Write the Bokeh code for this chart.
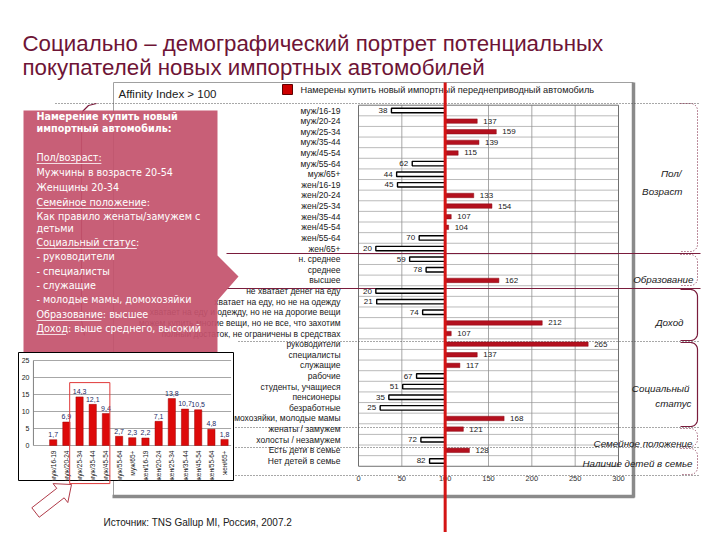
import math
from bokeh.plotting import figure
from bokeh.models import Range1d
from bokeh.core.properties import value
from bokeh.embed import file_html
from bokeh.resources import INLINE

# ---------------- data ----------------
title_lines = ["Социально – демографический портрет потенциальных",
               "покупателей новых импортных автомобилей"]
affinity_note = "Affinity Index > 100"
legend_text = "Намерены купить новый импортный переднеприводный автомобиль"
source_text = "Источник: TNS Gallup MI, Россия, 2007.2"

categories = ["муж/16-19", "муж/20-24", "муж/25-34", "муж/35-44", "муж/45-54",
              "муж/55-64", "муж/65+", "жен/16-19", "жен/20-24", "жен/25-34",
              "жен/35-44", "жен/45-54", "жен/55-64", "жен/65+",
              "н. среднее", "среднее", "высшее",
              "не хватает денег на еду", "хватает на еду, но не на одежду",
              "хватает на еду и одежду, но не на дорогие вещи",
              "можем купить многие вещи, но не все, что захотим",
              "полный достаток, не ограничены в средствах",
              "руководители", "специалисты", "служащие", "рабочие",
              "студенты, учащиеся", "пенсионеры", "безработные",
              "домохозяйки, молодые мамы",
              "женаты / замужем", "холосты / незамужем",
              "Есть дети в семье", "Нет детей в семье"]
affinity = [38, 137, 159, 139, 115, 62, 44, 45, 133, 154, 107, 104, 70, 20,
            59, 78, 162, 20, 21, 74, 212, 107, 265, 137, 117, 67, 51, 35, 25, 168,
            121, 72, 128, 82]
value_ticks = [0, 50, 100, 150, 200, 250, 300]
baseline_index = 100

section_names = [["Пол/", "Возраст"], ["Образование"], ["Доход"],
                 ["Социальный", "статус"], ["Семейное положение"],
                 ["Наличие детей в семье"]]

inset_categories = ["муж/16-19", "муж/20-24", "муж/25-34", "муж/35-44", "муж/45-54",
                    "муж/55-64", "муж/65+", "жен/16-19", "жен/20-24", "жен/25-34",
                    "жен/35-44", "жен/45-54", "жен/55-64", "жен/65+"]
inset_shares = [1.7, 6.9, 14.3, 12.1, 9.4, 2.7, 2.3, 2.2, 7.1, 13.8, 10.7, 10.5, 4.8, 1.8]
inset_ticks = [0, 5, 10, 15, 20, 25]
highlight_group = ["муж/25-34", "муж/35-44", "муж/45-54"]

summary_lines = ["Намерение купить новый", "импортный автомобиль:",
                 "Пол/возраст:", "Мужчины в возрасте 20-54", "Женщины 20-34",
                 "Семейное положение:", "Как правило женаты/замужем с", "детьми",
                 "Социальный статус:", "- руководители", "- специалисты", "- служащие",
                 "- молодые мамы, домохозяйки", "Образование: высшее",
                 "Доход: выше среднего, высокий"]
summary_underlined = ["Пол/возраст", "Семейное положение", "Социальный статус",
                      "Образование", "Доход"]

# ---------------- layout (reference pixel coordinates) ----------------
W, H = 712, 532
OFF = 0
ROW0_PX, ROW_STEP = 110.0, 10.62
VAL0_PX, VALMAX_PX, VALMAX = 358.0, 618.0, 300.0
K = (VALMAX_PX - VAL0_PX) / VALMAX
I0_PX, I_STEP = 52.7, 13.18
IY0_PX, IY_K = 445.0, 3.4

FONT = value("Liberation Sans")
VFONT = value("DejaVu Sans")
MAROON = "#6e1436"

p = figure(width=W, height=H, x_range=Range1d(OFF, OFF + W), y_range=Range1d(OFF + H, OFF),
           x_axis_type=None, y_axis_type=None, toolbar_location=None,
           output_backend="svg", min_border=0, outline_line_color=None)
p.background_fill_color = "white"
p.border_fill_color = "white"
p.grid.visible = False

p.extra_x_ranges = {
    "val": Range1d((OFF - VAL0_PX) / K, (OFF + W - VAL0_PX) / K),
    "ix": Range1d((OFF - I0_PX) / I_STEP, (OFF + W - I0_PX) / I_STEP),
}
p.extra_y_ranges = {
    "rows": Range1d((OFF + H - ROW0_PX) / ROW_STEP, (OFF - ROW0_PX) / ROW_STEP),
    "iy": Range1d((IY0_PX - (OFF + H)) / IY_K, (IY0_PX - OFF) / IY_K),
}

n = len(categories)

# ---------------- outer gray frame ----------------
p.line([113, 633], [82, 82], line_color="#a0a0a0", line_width=1)
p.line([113, 113], [82, 496], line_color="#a0a0a0", line_width=1)
p.line([633, 633], [82, 497], line_color="#8a8a8a", line_width=3.5)
p.line([112, 634], [496, 496], line_color="#8a8a8a", line_width=3.5)

# header
p.text([118], [93], [affinity_note], text_font=FONT, text_font_size="11.5px",
       text_baseline="middle", text_color="#202020")
p.quad(left=[282], right=[292], top=[84], bottom=[94], fill_color="#cc0000", line_color="#600000")
p.text([300], [89], [legend_text], text_font=FONT, text_font_size="9.2px",
       text_baseline="middle", text_color="#202020")

# ---------------- main chart grid ----------------
top_r, bot_r = -0.5, n - 0.5
p.segment(x0=[0] * (n - 1), x1=[VALMAX] * (n - 1), y0=[i + 0.5 for i in range(n - 1)],
          y1=[i + 0.5 for i in range(n - 1)], x_range_name="val", y_range_name="rows",
          line_color="#a8a8a8", line_width=0.8)
inner = value_ticks[1:-1]
p.segment(x0=inner, x1=inner, y0=[top_r] * len(inner), y1=[bot_r] * len(inner),
          x_range_name="val", y_range_name="rows", line_color="#909090", line_width=0.8)
p.quad(left=[0], right=[VALMAX], top=[top_r], bottom=[bot_r], fill_color=None,
       line_color="#707070", line_width=1, x_range_name="val", y_range_name="rows")

# section separators and right brackets
dot = dict(line_color="#505050", line_width=1, line_dash="1 2")
for yy, x0 in [(103, 55), (341, 238), (427, 232), (447, 232), (475, 232)]:
    p.line([x0, 698], [yy, yy], **dot)
for yy in [253, 288]:
    p.line([226, 700], [yy, yy], line_color="#7a1c3c", line_width=1)

def bracket(t, b, x=697, r=7):
    xs, ys = [680], [t]
    for k in range(0, 11):
        a = math.pi / 2 - k * math.pi / 20
        xs.append(x - r + r * math.cos(a)); ys.append(t + r - r * math.sin(a))
    for k in range(0, 11):
        a = k * math.pi / 20
        xs.append(x - r + r * math.cos(a)); ys.append(b - r + r * math.sin(a))
    xs.append(680); ys.append(b)
    return xs, ys

for (t, b, dash) in [(103, 251, "1 2"), (254, 285, "1 2"), (289, 340, None),
                     (342, 426, None), (428, 446, "1 2"), (448, 474, "1 2")]:
    xs, ys = bracket(t, b)
    if dash:
        p.line(xs, ys, line_color="#7a1c3c", line_width=1, line_dash=dash)
    else:
        p.line(xs, ys, line_color="#7a1c3c", line_width=1.2)

# ---------------- main bars ----------------
rows = list(range(n))
hi = [i for i in rows if affinity[i] >= baseline_index]
lo = [i for i in rows if affinity[i] < baseline_index]
p.hbar(y=hi, left=[baseline_index] * len(hi), right=[affinity[i] for i in hi], height=0.42,
       fill_color="#b3101e", line_color="#8a0a16", line_width=0.5,
       x_range_name="val", y_range_name="rows")
p.hbar(y=lo, left=[affinity[i] for i in lo], right=[baseline_index] * len(lo), height=0.42,
       fill_color="white", line_color="black", line_width=1.4,
       x_range_name="val", y_range_name="rows")

p.text(x=[affinity[i] for i in hi], y=hi, text=[str(affinity[i]) for i in hi], x_offset=6,
       text_font=FONT, text_font_size="8px", text_baseline="middle", text_align="left",
       text_color="#202020", x_range_name="val", y_range_name="rows")
p.text(x=[affinity[i] for i in lo], y=lo, text=[str(affinity[i]) for i in lo], x_offset=-4,
       text_font=FONT, text_font_size="8px", text_baseline="middle", text_align="right",
       text_color="#202020", x_range_name="val", y_range_name="rows")

p.text(x=[0] * n, y=rows, text=categories, x_offset=-18, text_font=FONT,
       text_font_size="8.5px", text_baseline="middle", text_align="right",
       text_color="#202020", x_range_name="val", y_range_name="rows")

tick_y = bot_r + 12 / ROW_STEP
p.text(x=value_ticks, y=[tick_y] * len(value_ticks), text=[str(t) for t in value_ticks],
       text_font=FONT, text_font_size="7.5px", text_baseline="middle", text_align="center",
       text_color="#303030", x_range_name="val", y_range_name="rows")

# baseline red line
p.segment(x0=[baseline_index], x1=[baseline_index], y0=[82], y1=[OFF + H],
          x_range_name="val", line_color="#d41414", line_width=3)

# ---------------- left summary box ----------------
p.line([96, 88, 82, 81, 81, 84], [103, 105, 111, 120, 320, 335], line_color="#7a1c3c", line_width=1.2)
p.patch([23, 217, 217, 238, 217, 217, 23], [110, 110, 255, 276, 300, 352, 352],
        fill_color="#c4536d", fill_alpha=0.93, line_color=None)

sum_y = [116, 128, 157, 172, 187, 202, 216, 228, 242, 256, 271, 285, 299, 314, 328]
for k, (txt, yy) in enumerate(zip(summary_lines, sum_y)):
    p.text([36], [yy], [txt], text_font=VFONT, text_font_size="9.6px",
           text_font_style="bold" if k < 2 else "normal", text_baseline="middle",
           text_color="white")
    for u in summary_underlined:
        if txt.startswith(u):
            wdt = len(u) * 5.9
            p.line([36, 36 + wdt], [yy + 6, yy + 6], line_color="white", line_width=0.8)

# ---------------- inset chart ----------------
p.quad(left=[18], right=[233], top=[352], bottom=[480], fill_color="white", line_color="black", line_width=1)
m = len(inset_shares)
idx = list(range(m))
p.segment(x0=[-1.5] * len(inset_ticks), x1=[m - 0.5] * len(inset_ticks), y0=inset_ticks, y1=inset_ticks,
          x_range_name="ix", y_range_name="iy", line_color="#909090", line_width=0.8)
p.segment(x0=[-1.5], x1=[-1.5], y0=[0], y1=[inset_ticks[-1]], x_range_name="ix", y_range_name="iy",
          line_color="#808080", line_width=1)
p.text(x=[-1.5] * len(inset_ticks), y=inset_ticks, text=[str(t) for t in inset_ticks], x_offset=-4,
       text_font=FONT, text_font_size="7px", text_align="right", text_baseline="middle",
       text_color="#202020", x_range_name="ix", y_range_name="iy")
p.vbar(x=idx, top=inset_shares, bottom=0, width=0.55, fill_color="#dd0a0a", line_color="#a00000",
       line_width=0.5, x_range_name="ix", y_range_name="iy")
p.text(x=idx, y=[v + 0.8 for v in inset_shares],
       text=[f"{v:.1f}".replace(".", ",") for v in inset_shares],
       text_font=FONT, text_font_size="7px", text_align="center", text_baseline="bottom",
       text_color="#1c2a66", x_range_name="ix", y_range_name="iy")
p.text(x=idx, y=[-1.5] * m, text=inset_categories, angle=math.pi / 2,
       text_font=FONT, text_font_size="6.5px", text_align="right", text_baseline="middle",
       text_color="#202020", x_range_name="ix", y_range_name="iy")

h_idx = [inset_categories.index(c) for c in highlight_group]
p.quad(left=[min(h_idx) - 0.75], right=[max(h_idx) + 0.3], top=[18.5], bottom=[-11.2],
       fill_color=None, line_color="#e03a3a", line_width=1, x_range_name="ix", y_range_name="iy")

# arrow
tail, tip = (35.0, 512.0), (71.0, 484.0)
dx, dy = tip[0] - tail[0], tip[1] - tail[1]
L = math.hypot(dx, dy)
ux, uy = dx / L, dy / L
vx, vy = -uy, ux
local = [(0, -6), (L - 14, -6), (L - 14, -12), (L, 0), (L - 14, 12), (L - 14, 6), (0, 6)]
ax = [tail[0] + a * ux + b * vx for a, b in local]
ay = [tail[1] + a * uy + b * vy for a, b in local]
p.patch(ax, ay, fill_color="white", line_color="#b03a48", line_width=1)

# ---------------- right section labels ----------------
sec_pos = [[(681, 173), (682, 191)], [(693, 279)], [(683, 322)],
           [(689, 388), (691, 403)], [(692, 443)], [(692, 463)]]
for names, poss in zip(section_names, sec_pos):
    for nm, (xx, yy) in zip(names, poss):
        p.text([xx], [yy], [nm], text_font=FONT, text_font_size="9.8px", text_font_style="italic",
               text_align="right", text_baseline="middle", text_color="#202020")

# ---------------- title and source ----------------
p.text([22, 22], [43, 67], title_lines, text_font=FONT, text_font_size="22.3px",
       text_baseline="middle", text_color=MAROON)
p.text([103], [522], [source_text], text_font=FONT, text_font_size="10px",
       text_baseline="middle", text_color="#202020")

open("out.html", "w").write(file_html(p, INLINE))
